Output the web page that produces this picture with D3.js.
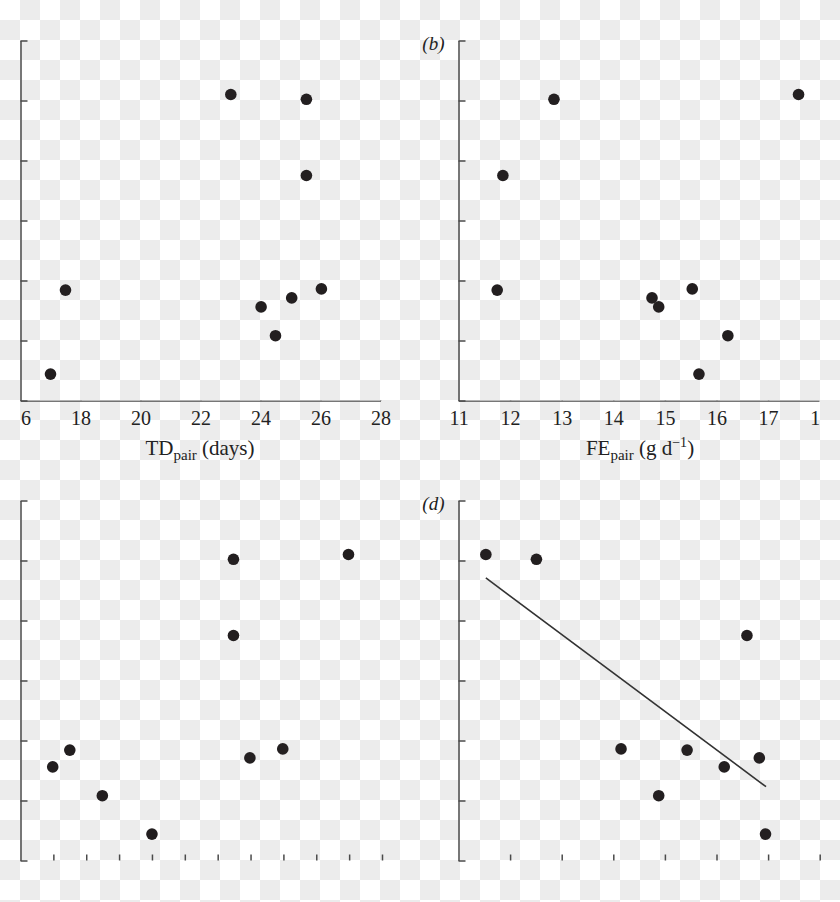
<!DOCTYPE html>
<html><head><meta charset="utf-8">
<script src="https://cdn.jsdelivr.net/npm/d3@7"></script>
<style>html,body{margin:0;padding:0;background:#fff}</style>
</head><body>
<script>
// shared y values (9 pairs)
const yValues = [5.10, 5.02, 3.75, 1.86, 1.84, 1.71, 1.56, 1.08, 0.44];
const xA = [23.01, 25.53, 25.53, 26.03, 17.50, 25.04, 24.02, 24.50, 17.00];
const xB = [17.59, 12.85, 11.86, 15.53, 11.75, 14.75, 14.88, 16.22, 15.66];
const xC = [9.98, 6.48, 6.48, 7.98, 1.50, 6.98, 0.98, 2.49, 4.00];
const xD = [11.53, 12.51, 16.59, 14.15, 15.43, 16.83, 16.15, 14.88, 16.95];
const fitX = [11.53, 16.96];
const fitY = [4.71, 1.23];
const ticksA = [16, 18, 20, 22, 24, 26, 28];
const ticksB = [11, 12, 13, 14, 15, 16, 17, 18];
const ticksC = [1, 2, 3, 4, 5, 6, 7, 8, 9, 10, 11];
const ticksD = [12, 13, 14, 15, 16, 17, 18];
const yTicks = [0, 1, 2, 3, 4, 5, 6];

const W = 840, H = 902;
const svg = d3.select("body").append("svg").attr("width", W).attr("height", H);
const defs = svg.append("defs");
const pat = defs.append("pattern").attr("id", "chk").attr("patternUnits", "userSpaceOnUse")
  .attr("width", 40).attr("height", 40);
pat.append("rect").attr("width", 40).attr("height", 40).attr("fill", "#ffffff");
pat.append("rect").attr("x", 20).attr("y", 0).attr("width", 20).attr("height", 20).attr("fill", "#ececec");
pat.append("rect").attr("x", 0).attr("y", 20).attr("width", 20).attr("height", 20).attr("fill", "#ececec");
svg.append("rect").attr("width", W).attr("height", H).attr("fill", "url(#chk)");

defs.append("clipPath").attr("id", "clipA").append("rect").attr("x", 20.5).attr("y", 0).attr("width", 400).attr("height", H);
defs.append("clipPath").attr("id", "clipB").append("rect").attr("x", 420).attr("y", 0).attr("width", 399.5).attr("height", H);

const AX = "#4a4a4a", DOT = "#231f20";
const serif = "'Liberation Serif', 'DejaVu Serif', serif";

function panel(o) {
  const x = d3.scaleLinear().domain(o.xDomain).range(o.xRange);
  const y = d3.scaleLinear().domain([0, 6]).range(o.yRange);
  const g = svg.append("g");
  // y axis
  const ya = g.append("g").attr("transform", `translate(${o.xRange[0]},0)`)
    .call(d3.axisLeft(y).tickValues(yTicks).tickSizeInner(-7).tickSizeOuter(0).tickFormat(""));
  ya.selectAll("path,line").attr("stroke", AX).attr("stroke-width", 1.5);
  // x axis
  const xa = g.append("g").attr("transform", `translate(0,${o.yRange[0]})`)
    .call(d3.axisBottom(x).tickValues(o.ticks).tickSizeInner(-6).tickSizeOuter(0)
      .tickPadding(10).tickFormat(o.labels ? d3.format("d") : ""));
  xa.selectAll("path,line").attr("stroke", AX).attr("stroke-width", 1.5);
  if (!o.domainLine) xa.select(".domain").remove();
  xa.selectAll("text").attr("font-family", serif).attr("font-size", 20).attr("fill", "#222");
  if (o.clip) xa.attr("clip-path", `url(#${o.clip})`);
  if (o.title) {
    const t = g.append("text").attr("x", o.titleX).attr("y", o.yRange[0] + 54)
      .attr("text-anchor", "middle").attr("font-family", serif).attr("font-size", 21).attr("fill", "#222");
    t.append("tspan").text(o.title[0]);
    t.append("tspan").attr("font-size", 15).attr("dy", 5).text("pair");
    t.append("tspan").attr("dy", -5).text(o.title[1]);
    if (o.title[2]) {
      t.append("tspan").attr("font-size", 14).attr("dy", -8).text(o.title[2]);
      t.append("tspan").attr("dy", 8).text(o.title[3]);
    }
  }
  if (o.tag) {
    g.append("text").attr("x", o.xRange[0] - 14).attr("y", o.yRange[1] + 9)
      .attr("text-anchor", "end").attr("font-family", serif).attr("font-style", "italic")
      .attr("font-size", 19).attr("fill", "#222").text(o.tag);
  }
  if (o.fit) {
    g.append("path").datum(d3.zip(fitX, fitY))
      .attr("d", d3.line().x(d => x(d[0])).y(d => y(d[1])))
      .attr("stroke", "#333").attr("stroke-width", 1.6).attr("fill", "none");
  }
  g.selectAll("circle.pt").data(d3.zip(o.xs, yValues)).join("circle")
    .attr("class", "pt").attr("cx", d => x(d[0])).attr("cy", d => y(d[1]))
    .attr("r", 5.8).attr("fill", DOT);
}

panel({ xDomain: [16, 28], xRange: [20.5, 380.5], yRange: [400.5, 40.5], ticks: ticksA, labels: true,
  domainLine: true, clip: "clipA", xs: xA, title: ["TD", " (days)"], titleX: 200 });
panel({ xDomain: [11, 18], xRange: [458.5, 819.7], yRange: [400.5, 40.5], ticks: ticksB, labels: true,
  domainLine: true, clip: "clipB", xs: xB, title: ["FE", " (g d", "−1", ")"], titleX: 640, tag: "(b)" });
panel({ xDomain: [0, 11], xRange: [20.5, 382], yRange: [860.5, 500.5], ticks: ticksC, labels: false,
  domainLine: false, xs: xC });
panel({ xDomain: [11, 18], xRange: [458.5, 819.7], yRange: [860.5, 500.5], ticks: ticksD, labels: false,
  domainLine: false, xs: xD, tag: "(d)", fit: true });
</script>
</body></html>
